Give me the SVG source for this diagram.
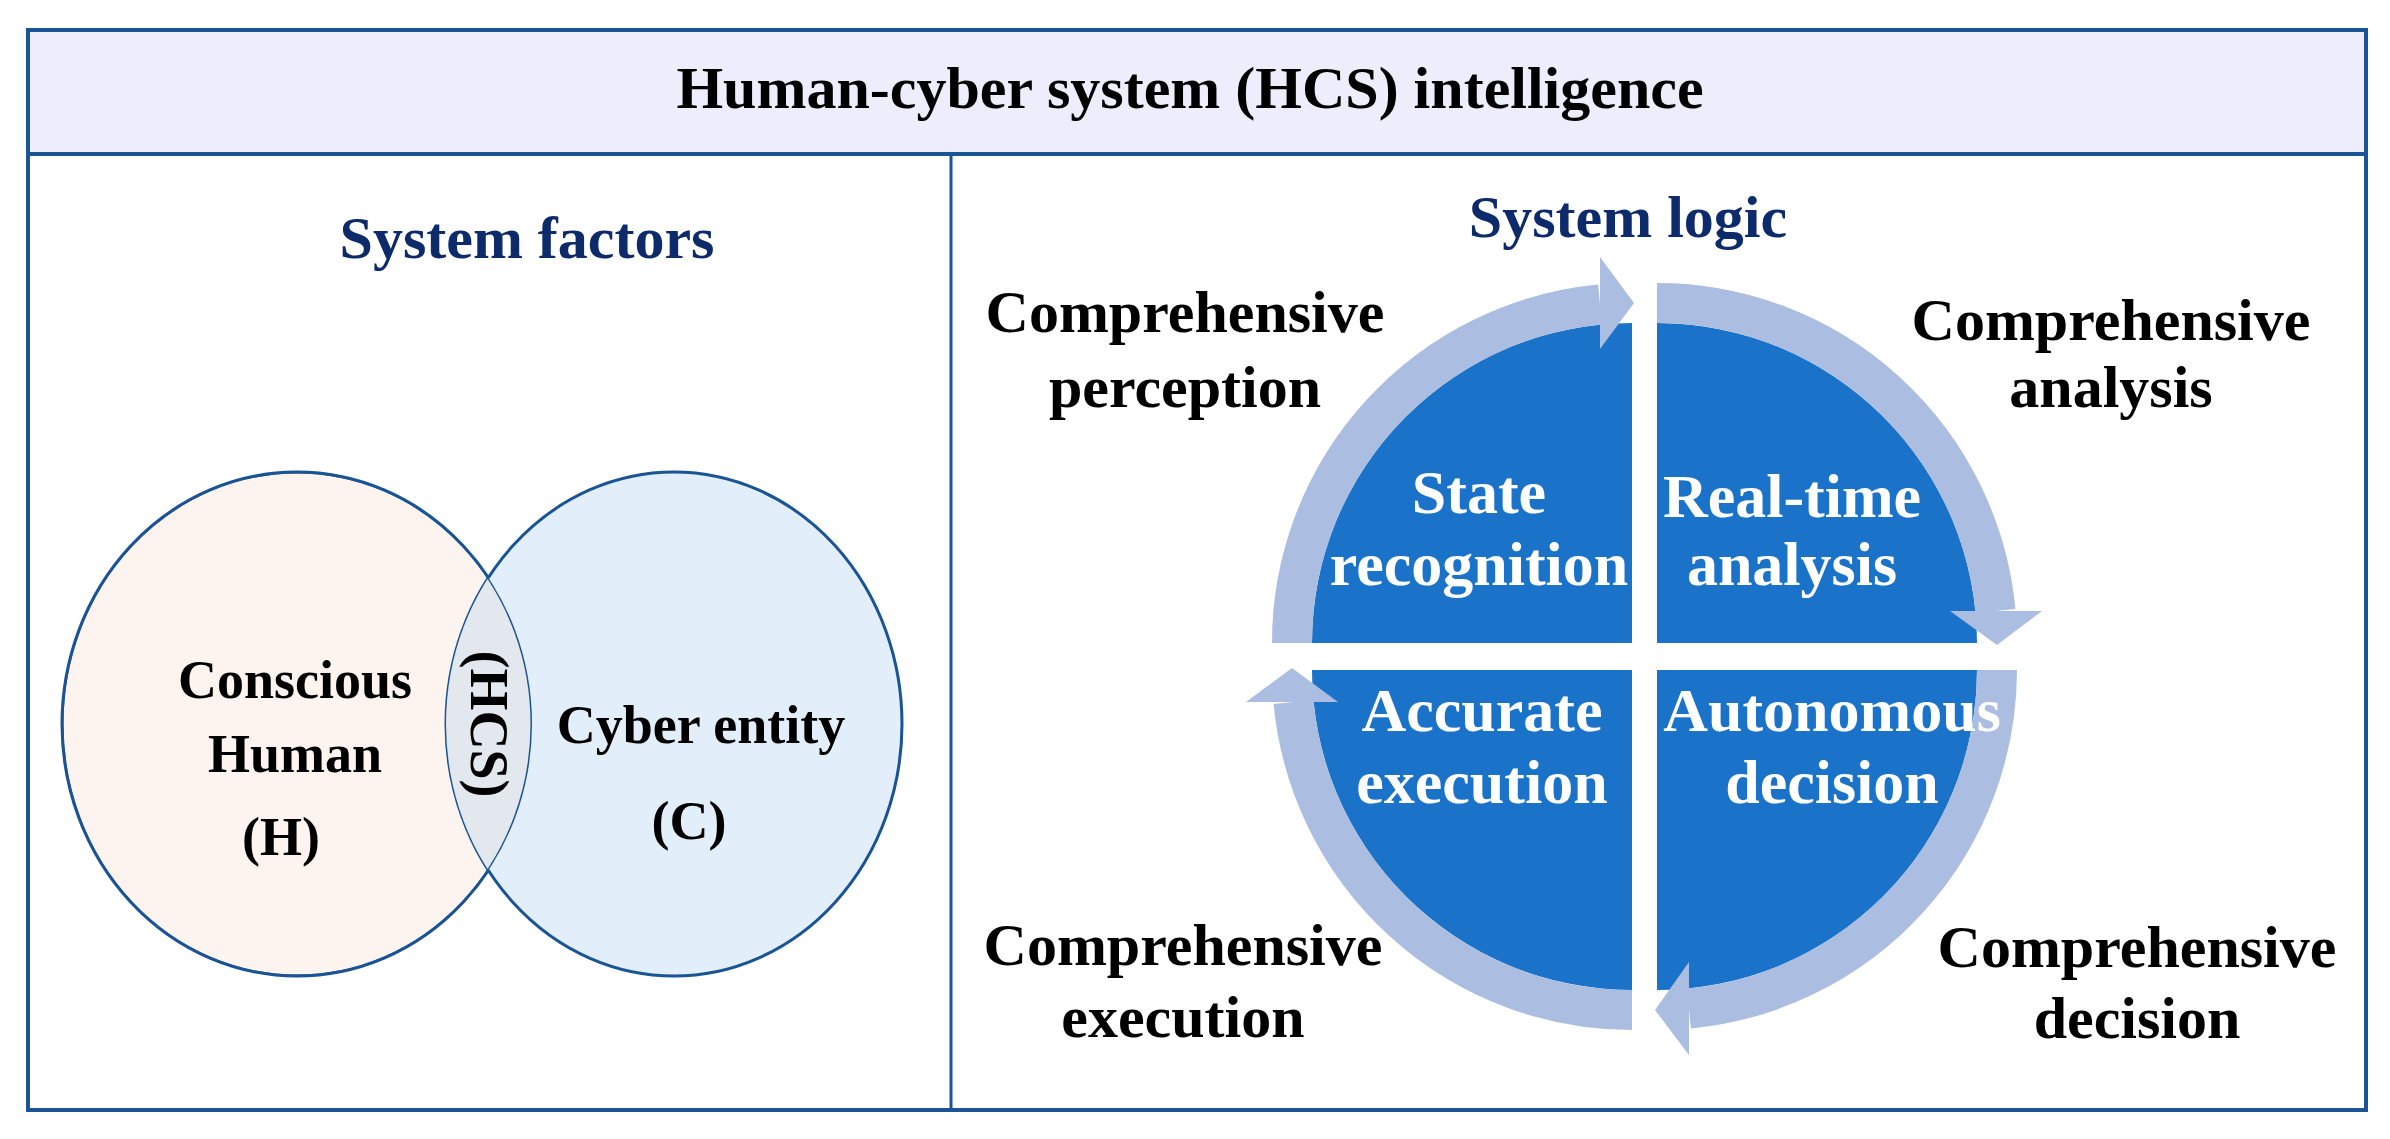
<svg xmlns="http://www.w3.org/2000/svg" width="2390" height="1139" viewBox="0 0 2390 1139">
<style>
text{font-family:"Liberation Serif","Times New Roman",serif;font-weight:bold;text-anchor:middle}
.t{font-size:60px;fill:#000}
.sub{font-size:60px;fill:#0d2a6b}
.lbl{font-size:60px;fill:#000}
.v{font-size:54px;fill:#000}
.w{font-size:62px;fill:#fff}
.q{fill:#1a73c8}
.band{fill:none;stroke:#abbde0;stroke-width:40}
.head{fill:#abbde0}
.ven{stroke:#1a5494;stroke-width:3}
</style>
<defs>
<clipPath id="cl"><ellipse cx="297" cy="724" rx="235" ry="252"/></clipPath>
</defs>
<rect x="0" y="0" width="2390" height="1139" fill="#fff"/>
<g id="frame">
<rect x="28" y="30" width="2338" height="124" fill="#ededfb" stroke="#1a5494" stroke-width="4"/>
<rect x="28" y="154" width="2338" height="956" fill="#fff" stroke="#1a5494" stroke-width="4"/>
<line x1="951" y1="154" x2="951" y2="1110" stroke="#1a5494" stroke-width="3"/>
<text class="t" x="1190" y="108">Human-cyber system (HCS) intelligence</text>
</g>
<g id="factors">
<text class="sub" x="527" y="258">System factors</text>
<ellipse id="human" class="ven" cx="297" cy="724" rx="235" ry="252" fill="#fdf3ef"/>
<ellipse id="cyber" class="ven" cx="674" cy="724" rx="228" ry="252" fill="#e2eef9"/>
<ellipse cx="674" cy="724" rx="228" ry="252" fill="#e3e8ee" clip-path="url(#cl)"/>
<ellipse cx="297" cy="724" rx="235" ry="252" fill="none" stroke="#1a5494" stroke-width="3" clip-path="url(#cl)"/>
<text class="v" x="295" y="698">Conscious</text>
<text class="v" x="295" y="772">Human</text>
<text class="v" x="281" y="855">(H)</text>
<text class="v" x="701" y="743">Cyber entity</text>
<text class="v" x="689" y="839">(C)</text>
<text class="v" x="0" y="0" transform="translate(471 724) rotate(90)">(HCS)</text>
</g>
<g id="logic">
<text class="sub" x="1628" y="237">System logic</text>
<path class="q" d="M1632 643 L1312 643 A320 320 0 0 1 1632 323 Z"/>
<path class="q" d="M1657 643 L1657 323 A320 320 0 0 1 1977 643 Z"/>
<path class="q" d="M1657 670 L1977 670 A320 320 0 0 1 1657 990 Z"/>
<path class="q" d="M1632 670 L1632 990 A320 320 0 0 1 1312 670 Z"/>
</g>
<g id="connectors">
<path class="band" d="M1292 643 A340 340 0 0 1 1600 304.5"/>
<polygon class="head" points="1600,257 1634,303 1600,349"/>
<path class="band" d="M1657 303 A340 340 0 0 1 1995.5 611"/>
<polygon class="head" points="1950,611 2042,611 1997,645"/>
<path class="band" d="M1997 670 A340 340 0 0 1 1689 1008.5"/>
<polygon class="head" points="1689,962 1689,1055 1655,1010"/>
<path class="band" d="M1632 1010 A340 340 0 0 1 1293.5 702"/>
<polygon class="head" points="1246,702 1338,702 1292,668"/>
</g>
<g id="quadrant-text">
<text class="w" x="1479" y="513">State</text>
<text class="w" x="1479" y="585">recognition</text>
<text class="w" x="1792" y="517">Real-time</text>
<text class="w" x="1792" y="585">analysis</text>
<text class="w" x="1482" y="731">Accurate</text>
<text class="w" x="1482" y="803">execution</text>
<text class="w" x="1832" y="731">Autonomous</text>
<text class="w" x="1832" y="803">decision</text>
</g>
<g id="labels">
<text class="lbl" x="1185" y="332">Comprehensive</text>
<text class="lbl" x="1185" y="407">perception</text>
<text class="lbl" x="2111" y="340">Comprehensive</text>
<text class="lbl" x="2111" y="407">analysis</text>
<text class="lbl" x="1183" y="965">Comprehensive</text>
<text class="lbl" x="1183" y="1037">execution</text>
<text class="lbl" x="2137" y="967">Comprehensive</text>
<text class="lbl" x="2137" y="1038">decision</text>
</g>
</svg>
